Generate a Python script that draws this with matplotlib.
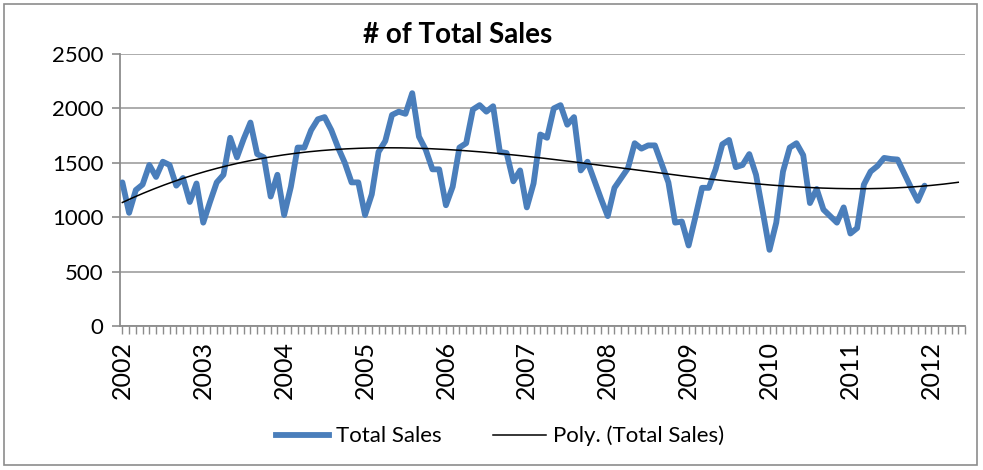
import matplotlib
matplotlib.use("Agg")
import matplotlib.pyplot as plt
import numpy as np
from matplotlib.patches import Rectangle
from matplotlib.lines import Line2D

# ---- data (monthly # of total sales, Jan 2002 .. Dec 2011) ----
year_labels = ["2002", "2003", "2004", "2005", "2006", "2007",
               "2008", "2009", "2010", "2011", "2012"]
sales_2002 = [1320, 1040, 1250, 1300, 1480, 1370, 1510, 1480, 1290, 1360, 1140, 1310]
sales_2003 = [950, 1140, 1320, 1390, 1730, 1550, 1720, 1870, 1580, 1550, 1190, 1390]
sales_2004 = [1020, 1280, 1640, 1640, 1800, 1900, 1920, 1800, 1640, 1500, 1320, 1320]
sales_2005 = [1020, 1210, 1600, 1700, 1940, 1970, 1950, 2140, 1740, 1620, 1440, 1440]
sales_2006 = [1110, 1280, 1640, 1680, 1990, 2030, 1970, 2020, 1600, 1590, 1330, 1430]
sales_2007 = [1090, 1310, 1760, 1730, 2000, 2030, 1850, 1920, 1430, 1510, 1340, 1170]
sales_2008 = [1010, 1270, 1360, 1450, 1680, 1630, 1660, 1660, 1490, 1320, 950, 960]
sales_2009 = [740, 1000, 1270, 1270, 1440, 1670, 1710, 1460, 1480, 1580, 1390, 1050]
sales_2010 = [700, 950, 1420, 1640, 1680, 1570, 1130, 1260, 1070, 1010, 950, 1090]
sales_2011 = [850, 900, 1300, 1420, 1470, 1545, 1535, 1530, 1400, 1270, 1150, 1290]

sales = np.array(sales_2002 + sales_2003 + sales_2004 + sales_2005 + sales_2006 +
                 sales_2007 + sales_2008 + sales_2009 + sales_2010 + sales_2011, dtype=float)
months = np.arange(len(sales))
forecast_periods = 5

plt.rcParams['font.family'] = ['Lato', 'DejaVu Sans']

W, H = 983, 470
fig = plt.figure(figsize=(W / 100, H / 100), dpi=100)
fig.patch.set_facecolor('white')

# outer chart border
fig.patches.append(Rectangle((4 / W, 5 / H), (977 - 4) / W, (466 - 5) / H,
                             transform=fig.transFigure, fill=False,
                             edgecolor='#8c8c8c', linewidth=1.2))

left, right, top, bottom = 120, 965, 54, 326
ax = fig.add_axes([left / W, 1 - bottom / H, (right - left) / W, (bottom - top) / H])

blue = '#4A7EBB'
ax.plot(months, sales, color=blue, linewidth=4.2, solid_joinstyle='round',
        solid_capstyle='round', zorder=3)

# polynomial trendline (Excel "Poly.") fitted to the data, extended forward
coef = np.polyfit(months, sales, 3)
xt = np.linspace(0, len(sales) - 1 + forecast_periods, 400)
ax.plot(xt, np.polyval(coef, xt), color='black', linewidth=1.1, zorder=4)

ax.set_ylim(0, 2500)
ax.set_xlim(-0.35, len(sales) - 1 + forecast_periods + 0.5)
ax.set_yticks(np.arange(0, 2501, 500))
ax.set_yticklabels([str(v) for v in range(0, 2501, 500)], fontsize=16)
ax.yaxis.grid(True, color='#a6a6a6', linewidth=1.3)
ax.set_axisbelow(True)

ax.set_xticks(np.arange(0, len(year_labels) * 12, 12))
ax.set_xticklabels(year_labels, rotation=90, fontsize=18)
ax.set_xticks(np.arange(0, len(sales) + forecast_periods + 1), minor=True)

for s in ['top', 'right']:
    ax.spines[s].set_visible(False)
for s in ['left', 'bottom']:
    ax.spines[s].set_color('#8c8c8c')
    ax.spines[s].set_linewidth(1.3)

ax.tick_params(axis='y', length=6, color='#8c8c8c', width=1.2, pad=6)
ax.tick_params(axis='x', which='major', length=6, color='#8c8c8c', width=1.0, pad=5)
ax.tick_params(axis='x', which='minor', length=6, color='#8c8c8c', width=1.0)

fig.text(458 / W, 1 - 35 / H, '# of Total Sales', ha='center', va='center',
         fontsize=20, fontweight='bold')

handles = [Line2D([], [], color=blue, linewidth=4.2),
           Line2D([], [], color='black', linewidth=1.1)]
fig.legend(handles, ['Total Sales', 'Poly. (Total Sales)'], loc='center',
           bbox_to_anchor=(500 / W, 1 - 436 / H), ncol=2, frameon=False,
           fontsize=16, handlelength=2.4, columnspacing=2.3, handletextpad=0.3)

fig.savefig('out.png', dpi=100)
